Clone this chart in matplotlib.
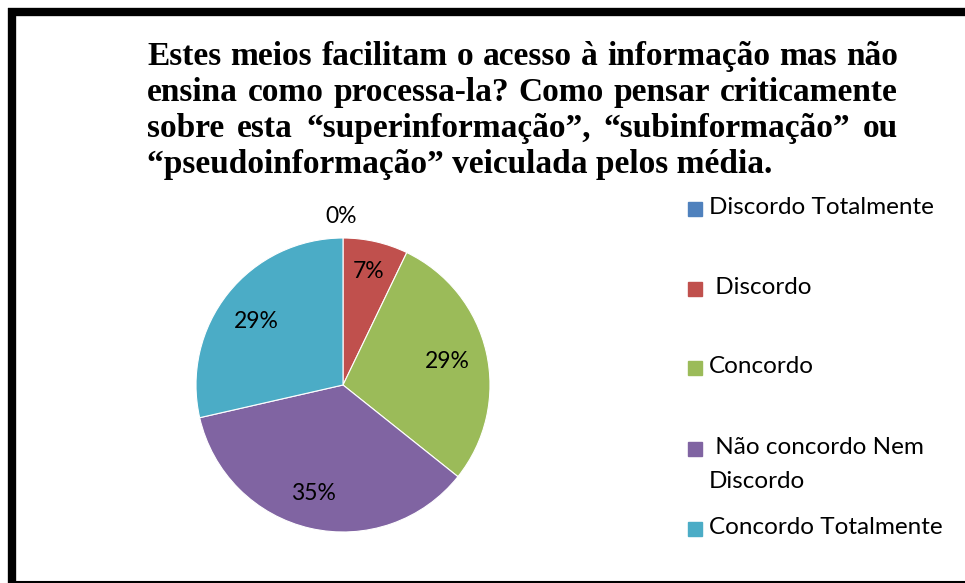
import matplotlib
matplotlib.use("Agg")
import matplotlib.pyplot as plt
from matplotlib.patches import Rectangle
from matplotlib.lines import Line2D

categories = ["Discordo Totalmente", " Discordo", "Concordo",
              " Não concordo Nem\nDiscordo", "Concordo Totalmente"]
counts = [0, 1, 4, 5, 4]
pct_labels = ["0%", "7%", "29%", "35%", "29%"]
colors = ["#4F81BD", "#C0504D", "#9BBB59", "#8064A2", "#4BACC6"]
title_lines = [
    "Estes meios facilitam o acesso à informação mas não",
    "ensina como processa-la? Como pensar criticamente",
    "sobre esta “superinformação”, “subinformação” ou",
    "“pseudoinformação” veiculada pelos média.",
]

W, H = 965, 583
fig = plt.figure(figsize=(W / 100, H / 100), dpi=100)
fig.patch.set_facecolor("white")

# Frame lines
fig.add_artist(Line2D([12 / W, 12 / W], [1 - 8 / H, 0], color="black", lw=6, solid_capstyle="butt"))
fig.add_artist(Line2D([8 / W, 1], [1 - 12 / H, 1 - 12 / H], color="black", lw=6, solid_capstyle="butt"))
fig.add_artist(Line2D([12 / W, 1], [1.5 / H, 1.5 / H], color="black", lw=1.5, solid_capstyle="butt"))

# Pie
cx, cy, r = 343, 385, 147
ax = fig.add_axes([(cx - r) / W, (H - cy - r) / H, 2 * r / W, 2 * r / H])
wedges, _ = ax.pie(counts, colors=colors, startangle=90, counterclock=False,
                   radius=1.0, wedgeprops=dict(linewidth=0.8, edgecolor="white"))
ax.set_xlim(-1, 1)
ax.set_ylim(-1, 1)
ax.set_aspect("equal")
ax.axis("off")

label_pos = [(341, 217), (369, 271), (447, 361), (313, 494), (256, 322)]
for (px, py), t in zip(label_pos, pct_labels):
    fig.text(px / W, 1 - py / H, t, ha="center", va="center",
             family="Lato", fontsize=16.5, color="black")

# Legend (manual, slot-based like the original)
leg_y = [209, 289, 368, 449, 529]
for c, lab, y in zip(colors, categories, leg_y):
    fig.add_artist(Rectangle((688 / W, 1 - (y + 7) / H), 14 / W, 14 / H, color=c,
                             transform=fig.transFigure))
    fig.text(709 / W, 1 - (y - 12) / H, lab, ha="left", va="top",
             linespacing=1.76, family="Lato", fontsize=17.5, color="black")

# Justified title
renderer = fig.canvas.get_renderer()
x0, x1 = 147, 898
tfont = dict(family="Liberation Serif", weight="bold", fontsize=24)
line_y = [65, 101, 137, 173]
for i, (line, y) in enumerate(zip(title_lines, line_y)):
    words = line.split(" ")
    if i == len(title_lines) - 1:
        fig.text(x0 / W, 1 - y / H, line, ha="left", va="baseline", **tfont)
        continue
    ts = [fig.text(0, 0, w_, ha="left", va="baseline", **tfont) for w_ in words]
    widths = [t.get_window_extent(renderer).width for t in ts]
    gap = (x1 - x0 - sum(widths)) / (len(words) - 1)
    x = x0
    for t, w_ in zip(ts, widths):
        t.set_position((x / W, 1 - y / H))
        x += w_ + gap

fig.savefig("out.png", dpi=100)
